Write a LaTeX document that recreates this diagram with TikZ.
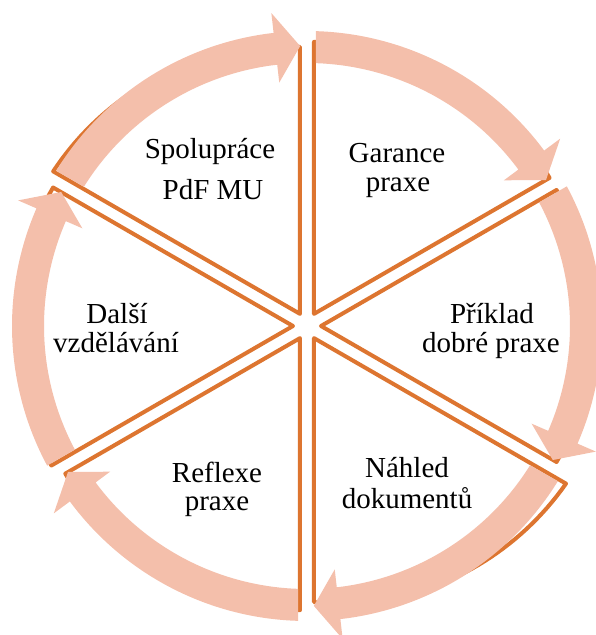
\documentclass[tikz,border=0pt]{standalone}
\usepackage{fontspec}
\setmainfont{Liberation Serif}
\definecolor{lineor}{RGB}{221,117,48}
\definecolor{arrsal}{RGB}{244,191,171}
\tikzset{
  pie/.style={draw=lineor, fill=white, line width=4pt, line join=round},
  arrowband/.style={fill=arrsal},
  lbl/.style={anchor=base, inner sep=0pt, font=\fontsize{29}{30}\selectfont}
}
\begin{document}
\begin{tikzpicture}[x=1pt,y=1pt]
\useasboundingbox (-307,-309) rectangle (289,326);
% segments (exploded pie slices)
\foreach \a/\ts/\te in {150/285/267, 90/272/272, 30/272/272, -30/291/264, -90/272/271, -150/279/277} {
  \begin{scope}[shift={({\a-30}:14)}]
    \filldraw[pie] (0,0) -- plot[domain=0:60,samples=41] ({\a-\x}:{\ts+(\te-\ts)*\x/60}) -- cycle;
  \end{scope}
}
% circular arrows
\foreach \a in {150,90,30,-30,-90,-150} {
  \pgfmathsetmacro\b{\a-60}
  \fill[arrowband] ({\a-1.74}:295) arc[start angle={\a-1.74}, end angle={\b+6.5}, radius=295]
    -- ({\b+6.5}:315) -- ({\b+1.4}:280) -- ({\b+6.5}:245) -- ({\b+6.5}:263)
    arc[start angle={\b+6.5}, end angle={\a-1.96}, radius=263] -- cycle;
}
% labels
\node[lbl] (s1) at (-97,167) {Spolupráce};
\node[lbl] (s2) at (-94,126) {PdF MU};
\node[lbl] (g1) at (90,163) {Garance};
\node[lbl] (g2) at (91,134) {praxe};
\node[lbl] (p1) at (185,3) {Příklad};
\node[lbl] (p2) at (184,-26) {dobré praxe};
\node[lbl] (n1) at (100,-151) {Náhled};
\node[lbl] (n2) at (100,-182) {dokumentů};
\node[lbl] (r1) at (-90,-156) {Reflexe};
\node[lbl] (r2) at (-90,-184) {praxe};
\node[lbl] (d1) at (-190,3) {Další};
\node[lbl] (d2) at (-191,-26) {vzdělávání};
\end{tikzpicture}
\end{document}
